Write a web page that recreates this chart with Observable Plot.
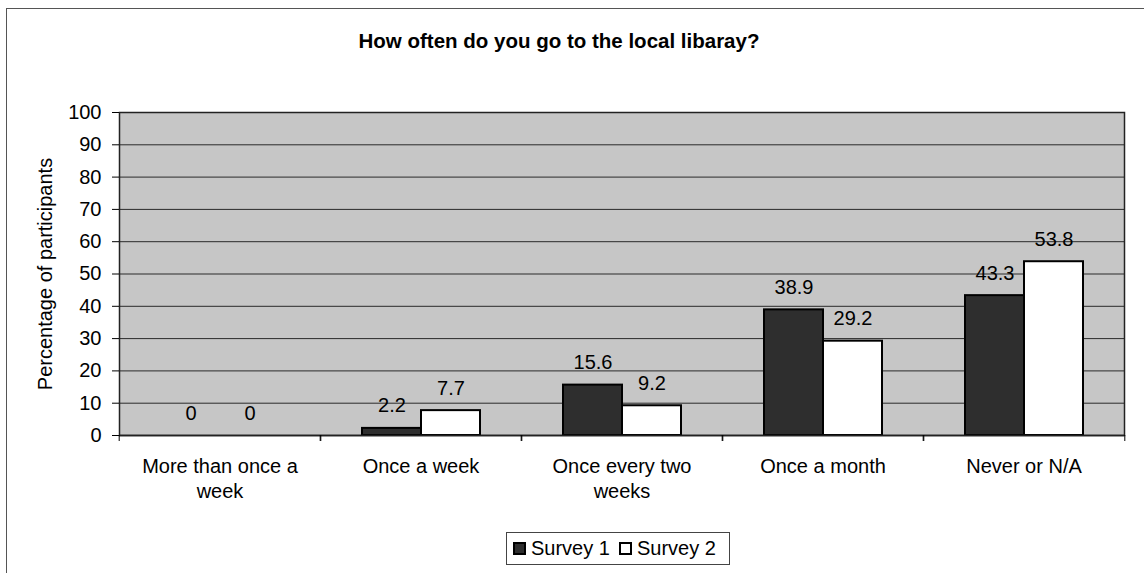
<!DOCTYPE html>
<html>
<head>
<meta charset="utf-8">
<script src="https://cdn.jsdelivr.net/npm/d3@7"></script>
<script src="https://cdn.jsdelivr.net/npm/@observablehq/plot@0.6"></script>
<style>
  body { margin: 0; background: #fff; font-family: "Liberation Sans", Arial, sans-serif; }
  #wrap { position: relative; width: 1144px; height: 573px; overflow: hidden; background: #fff; }
  #border { position: absolute; left: 6px; top: 8px; right: -10px; bottom: -10px;
            border-top: 1.5px solid #555; border-left: 1.5px solid #555; }
  #title { position: absolute; left: 0; top: 29px; width: 1118px; text-align: center;
           font-weight: bold; font-size: 20.5px; line-height: 24px; color: #000; }
  #chart { position: absolute; left: 0; top: 100px; }
  #legend { position: absolute; left: 506px; top: 532px; width: 224px; height: 33px;
            border: 1.5px solid #444; display: flex; align-items: center; font-size: 20px;
            color: #000; box-sizing: border-box; padding-left: 6px; background: #fff; }
  .item { display: flex; align-items: center; margin-right: 9px; }
  .sw { width: 13px; height: 13px; box-sizing: border-box; border: 2px solid #000; margin-right: 5px; }
</style>
</head>
<body>
<div id="wrap">
  <div id="border"></div>
  <div id="title">How often do you go to the local libaray?</div>
  <div id="chart"></div>
  <div id="legend"></div>
</div>
<script>
// ---- data ----
const categories = ["More than once a week", "Once a week", "Once every two weeks", "Once a month", "Never or N/A"];
const tickLabels = ["More than once a\nweek", "Once a week", "Once every two\nweeks", "Once a month", "Never or N/A"];
const series = ["Survey 1", "Survey 2"];
const survey1 = [0, 2.2, 15.6, 38.9, 43.3];
const survey2 = [0, 7.7, 9.2, 29.2, 53.8];
const yTicks = [0, 10, 20, 30, 40, 50, 60, 70, 80, 90, 100];
const seriesColors = ["#2e2e2e", "#ffffff"];

// ---- table ----
const table = [];
categories.forEach((c, i) => {
  table.push({category: c, series: series[0], value: survey1[i]});
  table.push({category: c, series: series[1], value: survey2[i]});
});

const W = 1144, H = 410, mL = 117, mR = 19, mT = 12, mB = 75;
const band = (W - mL - mR) / categories.length;
const font = "'Liberation Sans', Arial, sans-serif";

const chart = Plot.plot({
  width: W, height: H,
  marginLeft: mL, marginRight: mR, marginTop: mT, marginBottom: mB,
  style: {fontFamily: font, fontSize: "20px", color: "#000", background: "transparent"},
  fx: {domain: categories, padding: 0, label: null, axis: null},
  x: {domain: series, paddingInner: 0, paddingOuter: 0.7, axis: null},
  y: {domain: [0, 100], label: null},
  color: {domain: series, range: seriesColors},
  marks: [
    Plot.frame({facet: "super", fill: "#c6c6c6", stroke: null}),
    Plot.ruleY(yTicks.slice(1, -1), {stroke: "#2a2a2a", strokeWidth: 1}),
    Plot.barY(table, {fx: "category", x: "series", y: "value", fill: "series", stroke: "#000", strokeWidth: 2}),
    Plot.text(table, {fx: "category", x: "series", y: "value", text: d => String(d.value),
                      lineAnchor: "bottom", dy: -16, fontSize: 20, fill: "#000"}),
    Plot.ruleY([0], {stroke: "#000", strokeWidth: 1.5}),
    Plot.frame({facet: "super", stroke: "#222", strokeWidth: 1.5, fill: null}),
    Plot.axisY({ticks: yTicks, tickSize: 7, tickPadding: 11, fontSize: 20,
                label: "Percentage of participants", labelAnchor: "center", labelOffset: 82, labelArrow: false}),
    Plot.axisFx({anchor: "bottom", tickSize: 0, tickPadding: 20, fontSize: 20, lineHeight: 1.25, label: null,
                 tickFormat: d => tickLabels[categories.indexOf(d)]}),
    Plot.axisFx({anchor: "bottom", tickSize: 6, text: null, dx: -band / 2, label: null}),
    Plot.axisFx({anchor: "bottom", tickSize: 6, text: null, dx: band / 2, label: null})
  ]
});
document.getElementById("chart").appendChild(chart);

// ---- legend ----
const legend = document.getElementById("legend");
series.forEach((s, i) => {
  const item = document.createElement("div");
  item.className = "item";
  const sw = document.createElement("div");
  sw.className = "sw";
  sw.style.background = seriesColors[i];
  const t = document.createElement("span");
  t.textContent = s;
  item.appendChild(sw);
  item.appendChild(t);
  legend.appendChild(item);
});
</script>
</body>
</html>
